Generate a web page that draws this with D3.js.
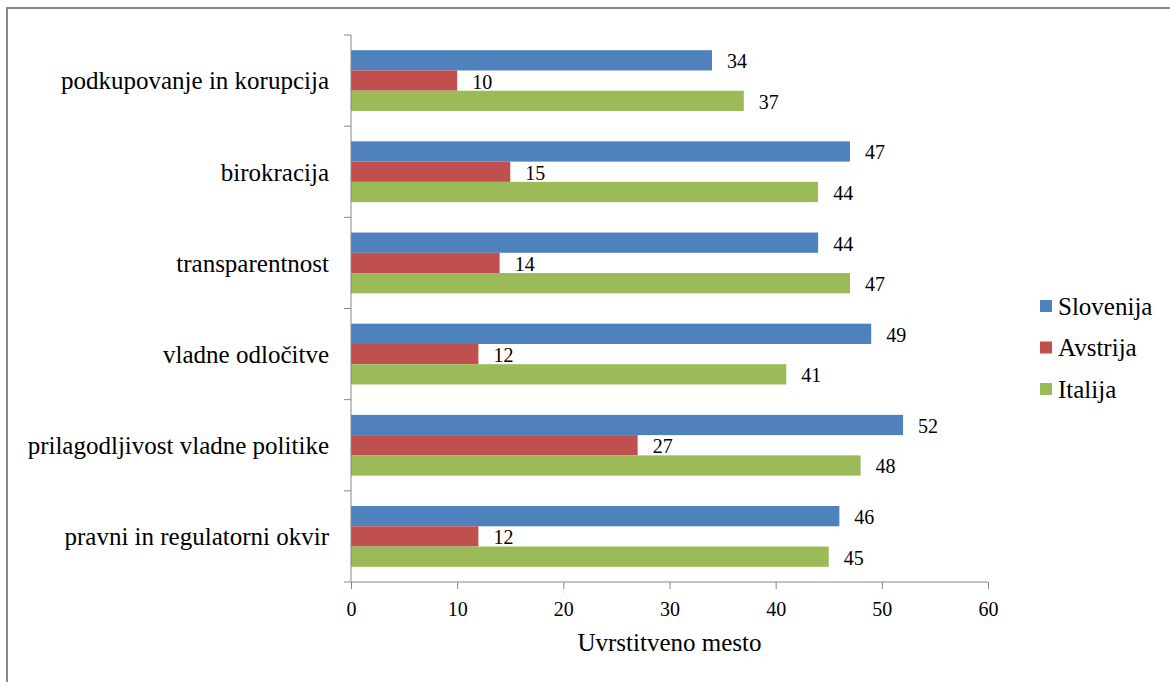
<!DOCTYPE html>
<html>
<head>
<meta charset="utf-8">
<script src="https://cdn.jsdelivr.net/npm/d3@7"></script>
<style>
  html, body { margin: 0; padding: 0; background: #fff; }
  svg { display: block; }
</style>
</head>
<body>
<svg id="chart" width="1170" height="682"></svg>
<script>
const categories = [
  "podkupovanje in korupcija",
  "birokracija",
  "transparentnost",
  "vladne odločitve",
  "prilagodljivost vladne politike",
  "pravni in regulatorni okvir"
];
const seriesNames = ["Slovenija", "Avstrija", "Italija"];
const slovenija = [34, 47, 44, 49, 52, 46];
const avstrija  = [10, 15, 14, 12, 27, 12];
const italija   = [37, 44, 47, 41, 48, 45];
const xTicks = [0, 10, 20, 30, 40, 50, 60];
const axisTitle = "Uvrstitveno mesto";
const colors = ["#4F81BD", "#C0504D", "#9BBB59"];

const seriesValues = [slovenija, avstrija, italija];
const FONT = "'Liberation Serif'";

const svg = d3.select("#chart");

svg.append("rect")
  .attr("x", 7).attr("y", 8)
  .attr("width", 1300).attr("height", 800)
  .attr("fill", "none")
  .attr("stroke", "#8a8a8a")
  .attr("stroke-width", 2);

const x = d3.scaleLinear().domain([0, 60]).range([351, 988]);
const y = d3.scaleBand().domain(categories).range([35, 582]).paddingInner(0).paddingOuter(0);
const inner = d3.scaleBand().domain(seriesNames).range([0, y.bandwidth()]).paddingInner(0).paddingOuter(0.75);

const groups = svg.append("g").selectAll("g")
  .data(categories)
  .join("g")
  .attr("transform", d => `translate(0,${y(d)})`);

groups.selectAll("rect")
  .data((d, i) => seriesNames.map((s, k) => ({ s, k, v: seriesValues[k][i] })))
  .join("rect")
  .attr("x", x(0))
  .attr("y", d => inner(d.s))
  .attr("width", d => x(d.v) - x(0))
  .attr("height", inner.bandwidth())
  .attr("fill", d => colors[d.k]);

groups.selectAll("text.val")
  .data((d, i) => seriesNames.map((s, k) => ({ s, k, v: seriesValues[k][i] })))
  .join("text")
  .attr("class", "val")
  .attr("x", d => x(d.v) + 15)
  .attr("y", d => inner(d.s) + inner.bandwidth() / 2)
  .attr("dy", "0.4em")
  .attr("font-family", FONT)
  .attr("font-size", 20)
  .attr("fill", "#000")
  .text(d => d.v);

const yAxis = svg.append("g")
  .attr("transform", `translate(${x(0)},0)`);
yAxis.append("line")
  .attr("x1", 0).attr("x2", 0)
  .attr("y1", 35).attr("y2", 582)
  .attr("stroke", "#868686").attr("stroke-width", 1);
const yTickPos = categories.map(c => y(c)).concat([y.range()[1]]);
yAxis.selectAll("line.tick")
  .data(yTickPos)
  .join("line")
  .attr("class", "tick")
  .attr("x1", -7).attr("x2", 0)
  .attr("y1", d => d).attr("y2", d => d)
  .attr("stroke", "#868686");

svg.append("g").selectAll("text")
  .data(categories)
  .join("text")
  .attr("x", 329)
  .attr("y", d => y(d) + y.bandwidth() / 2)
  .attr("dy", "0.35em")
  .attr("text-anchor", "end")
  .attr("font-family", FONT)
  .attr("font-size", 25)
  .attr("fill", "#000")
  .text(d => d);

const xAxis = svg.append("g")
  .attr("transform", `translate(0,582)`)
  .call(d3.axisBottom(x).tickValues(xTicks).tickSize(7).tickPadding(13).tickFormat(d3.format("d")));
xAxis.attr("font-family", FONT).attr("font-size", 20);
xAxis.select(".domain").attr("stroke", "#868686").attr("d", `M${x(0)},0H${x(60)}`);
xAxis.selectAll(".tick line").attr("stroke", "#868686");
xAxis.selectAll(".tick text")
  .attr("font-family", FONT)
  .attr("font-size", 20)
  .attr("fill", "#000");

svg.append("text")
  .attr("x", (x(0) + x(60)) / 2)
  .attr("y", 651)
  .attr("text-anchor", "middle")
  .attr("font-family", FONT)
  .attr("font-size", 25)
  .attr("fill", "#000")
  .text(axisTitle);

const legend = svg.append("g").selectAll("g")
  .data(seriesNames)
  .join("g")
  .attr("transform", (d, i) => `translate(1040,${306 + i * 41.5})`);
legend.append("rect")
  .attr("x", 0).attr("y", -6)
  .attr("width", 12).attr("height", 12)
  .attr("fill", (d, i) => colors[i]);
legend.append("text")
  .attr("x", 18).attr("y", 0)
  .attr("dy", "0.35em")
  .attr("font-family", FONT)
  .attr("font-size", 25)
  .attr("fill", "#000")
  .text(d => d);
</script>
</body>
</html>
